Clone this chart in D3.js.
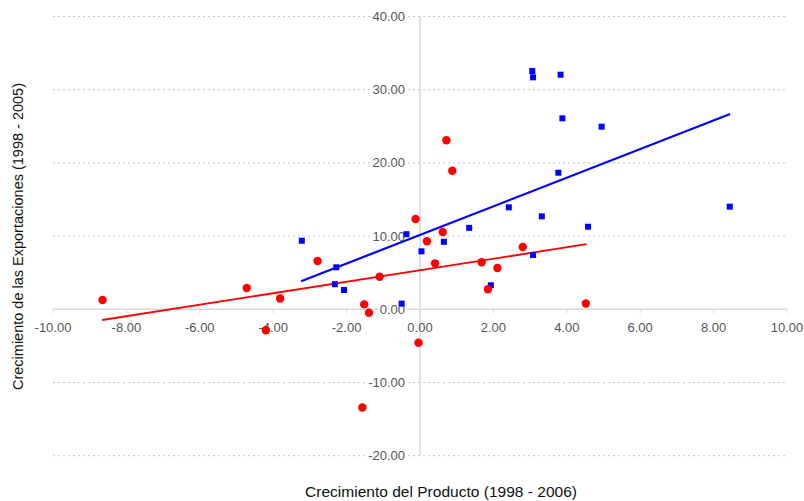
<!DOCTYPE html>
<html>
<head>
<meta charset="utf-8">
<script src="https://cdnjs.cloudflare.com/ajax/libs/d3/7.8.5/d3.min.js"></script>
<style>
  body { margin: 0; background: #fff; }
  .chart text { font-family: "Liberation Sans", Arial, sans-serif; }
  .tickText { font-size: 13px; fill: #555; }
  .axisText { font-size: 14.5px; fill: #111; }
</style>
</head>
<body>
<div class="chart"></div>
<script>
// red series (circles)
var redX = [-8.65, -4.72, -4.20, -3.81, -2.79, -1.57, -1.52, -1.39, -1.10, -0.12, -0.04,
            0.19, 0.41, 0.62, 0.72, 0.88, 1.68, 1.85, 2.11, 2.80, 4.52];
var redY = [1.27, 2.91, -2.87, 1.48, 6.60, -13.42, 0.67, -0.46, 4.45, 12.34, -4.56,
            9.29, 6.28, 10.56, 23.09, 18.93, 6.42, 2.73, 5.64, 8.51, 0.79];

// blue series (squares)
var blueX = [-3.22, -2.28, -2.32, -2.07, -0.50, -0.37, 0.04, 0.65, 1.34, 1.93, 2.42,
             3.06, 3.08, 3.08, 3.32, 3.83, 3.88, 3.77, 4.95, 4.58, 8.44];
var blueY = [9.37, 5.74, 3.43, 2.64, 0.78, 10.26, 7.92, 9.22, 11.13, 3.28, 13.93,
             32.55, 31.69, 7.42, 12.70, 32.05, 26.09, 18.66, 24.95, 11.28, 14.02];

// trend lines (start / end)
var redTrendX = [-8.66, 4.54];
var redTrendY = [-1.46, 8.89];
var blueTrendX = [-3.24, 8.45];
var blueTrendY = [3.83, 26.68];

var xTicks = [-10, -8, -6, -4, -2, 0, 2, 4, 6, 8, 10];
var yTicks = [-20, -10, 0, 10, 20, 30, 40];

var xTitle = "Crecimiento del Producto (1998 - 2006)";
var yTitle = "Crecimiento de las Exportaciones (1998 - 2005)";

var svgWidth = 804;
var svgHeight = 501;

var margin = { top: 16.5, left: 53 };
var width = 734;
var height = 439.2;

var svg = d3.select(".chart")
            .append("svg")
            .attr("width", svgWidth)
            .attr("height", svgHeight);

var chartGroup = svg.append("g")
                    .attr("transform", `translate(${margin.left}, ${margin.top})`);

// scales
var xLinearScale = d3.scaleLinear()
  .domain([-10, 10])
  .range([0, width]);

var yLinearScale = d3.scaleLinear()
  .domain([-20, 40])
  .range([height, 0]);

// dotted gridlines
chartGroup.selectAll(".grid")
          .data(yTicks.filter(d => d !== 0))
          .enter()
          .append("line")
          .attr("class", "grid")
          .attr("x1", xLinearScale(-10))
          .attr("x2", xLinearScale(10))
          .attr("y1", d => yLinearScale(d))
          .attr("y2", d => yLinearScale(d))
          .attr("stroke", "#c4c4c4")
          .attr("stroke-width", 1)
          .attr("stroke-dasharray", "2,3");

// axis lines through zero
chartGroup.append("line")
          .attr("x1", xLinearScale(-10))
          .attr("x2", xLinearScale(10))
          .attr("y1", yLinearScale(0))
          .attr("y2", yLinearScale(0))
          .attr("stroke", "#d8d8d8")
          .attr("stroke-width", 1.5);

chartGroup.append("line")
          .attr("x1", xLinearScale(0))
          .attr("x2", xLinearScale(0))
          .attr("y1", yLinearScale(40))
          .attr("y2", yLinearScale(-20))
          .attr("stroke", "#d8d8d8")
          .attr("stroke-width", 1.5);

// x tick marks + labels
chartGroup.selectAll(".xtick")
          .data(xTicks)
          .enter()
          .append("line")
          .attr("class", "xtick")
          .attr("x1", d => xLinearScale(d))
          .attr("x2", d => xLinearScale(d))
          .attr("y1", yLinearScale(0))
          .attr("y2", yLinearScale(0) + 4)
          .attr("stroke", "#d8d8d8")
          .attr("stroke-width", 1);

chartGroup.selectAll(".xlabel")
          .data(xTicks)
          .enter()
          .append("text")
          .attr("class", "tickText")
          .attr("x", d => xLinearScale(d))
          .attr("y", yLinearScale(0) + 23)
          .attr("text-anchor", "middle")
          .text(d => d.toFixed(2));

// y labels
chartGroup.selectAll(".ylabel")
          .data(yTicks)
          .enter()
          .append("text")
          .attr("class", "tickText")
          .attr("x", xLinearScale(0) - 15)
          .attr("y", d => yLinearScale(d) + 4.5)
          .attr("text-anchor", "end")
          .attr("stroke", "#fff")
          .attr("stroke-width", 3)
          .attr("paint-order", "stroke")
          .text(d => d.toFixed(2));

// trend lines
var lineGen = d3.line()
                .x(d => xLinearScale(d[0]))
                .y(d => yLinearScale(d[1]));

chartGroup.append("path")
          .datum(d3.zip(redTrendX, redTrendY))
          .attr("d", lineGen)
          .attr("fill", "none")
          .attr("stroke", "#ff0000")
          .attr("stroke-width", 1.8);

chartGroup.append("path")
          .datum(d3.zip(blueTrendX, blueTrendY))
          .attr("d", lineGen)
          .attr("fill", "none")
          .attr("stroke", "#0000ff")
          .attr("stroke-width", 2.2);

// points
chartGroup.selectAll(".blue")
          .data(d3.zip(blueX, blueY))
          .enter()
          .append("rect")
          .attr("class", "blue")
          .attr("x", d => xLinearScale(d[0]) - 3)
          .attr("y", d => yLinearScale(d[1]) - 3)
          .attr("width", 6)
          .attr("height", 6)
          .attr("fill", "#0000ff");

chartGroup.selectAll(".red")
          .data(d3.zip(redX, redY))
          .enter()
          .append("circle")
          .attr("class", "red")
          .attr("cx", d => xLinearScale(d[0]))
          .attr("cy", d => yLinearScale(d[1]))
          .attr("r", 4.2)
          .attr("fill", "#ff0000");

// axis titles (stretched a bit to the width seen in the picture)
svg.append("text")
   .attr("class", "axisText")
   .attr("x", 441)
   .attr("y", 497)
   .attr("text-anchor", "middle")
   .attr("textLength", 272)
   .attr("lengthAdjust", "spacingAndGlyphs")
   .text(xTitle);

svg.append("text")
   .attr("class", "axisText")
   .attr("transform", "translate(23, 236.5) rotate(-90)")
   .attr("text-anchor", "middle")
   .attr("textLength", 307)
   .attr("lengthAdjust", "spacingAndGlyphs")
   .text(yTitle);
</script>
</body>
</html>
